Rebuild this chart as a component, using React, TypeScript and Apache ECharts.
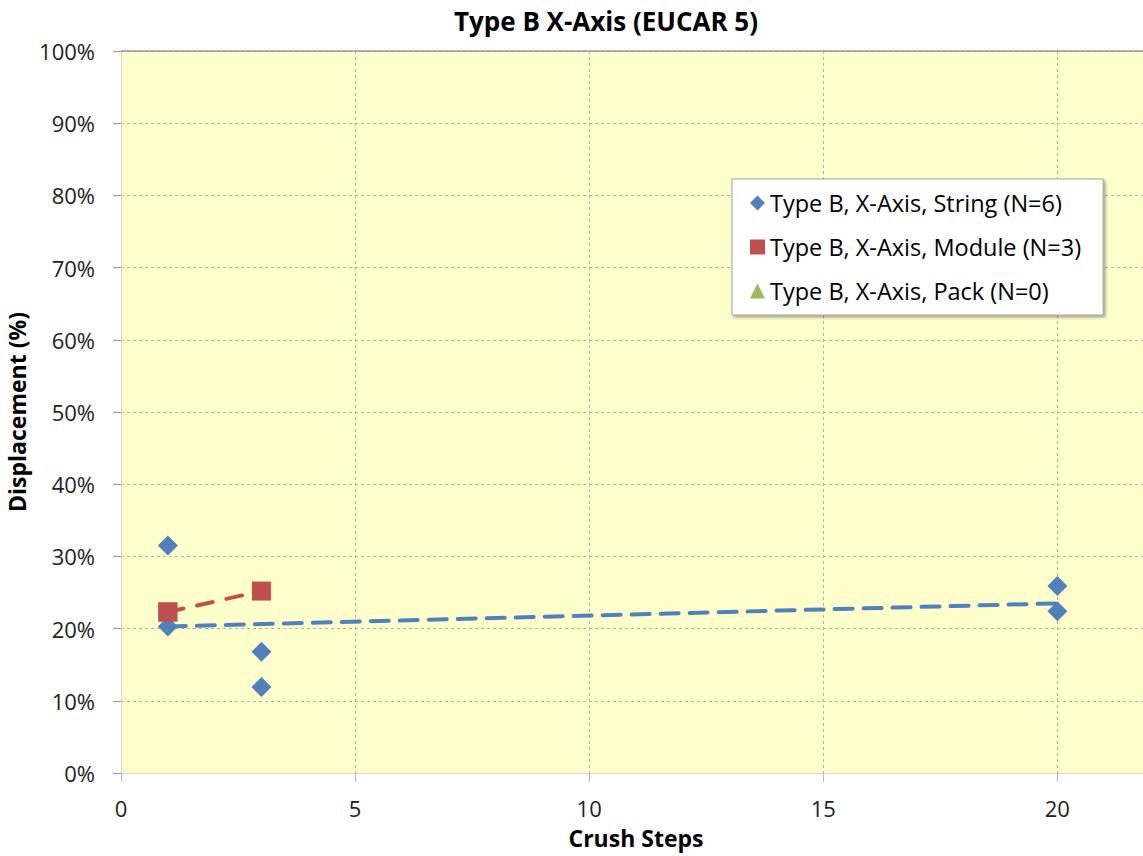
import React, { useEffect, useRef } from "react";
import * as echarts from "echarts";

const titleText = "Type B X-Axis (EUCAR 5)";
const xAxisName = "Crush Steps";
const yAxisName = "Displacement (%)";

const stringName = "Type B, X-Axis, String (N=6)";
const moduleName = "Type B, X-Axis, Module (N=3)";
const packName = "Type B, X-Axis, Pack (N=0)";

const stringX = [1, 1, 3, 3, 20, 20];
const stringY = [31.5, 20.3, 16.8, 11.9, 25.9, 22.4];

const moduleX = [1, 1, 3];
const moduleY = [22.3, 22.3, 25.2];

const packX: number[] = [];
const packY: number[] = [];

const stringTrendX = [1, 20];
const stringTrendY = [20.3, 23.5];
const moduleTrendX = [1, 3];
const moduleTrendY = [22.3, 25.2];

const xTicks = [0, 5, 10, 15, 20];
const yTicks = [0, 10, 20, 30, 40, 50, 60, 70, 80, 90, 100];

const FONT = "'Open Sans', sans-serif";
const BLUE = "#4F81BD";
const RED = "#C0504D";
const GREEN = "#9BBB59";

const zip = (xs: number[], ys: number[]) => xs.map((x, i) => [x, ys[i]]);

export default function App() {
  const ref = useRef<HTMLDivElement>(null);
  useEffect(() => {
    if (!ref.current) return;
    const chart = echarts.init(ref.current, undefined, { renderer: "svg" });
    chart.setOption({
      animation: false,
      backgroundColor: "#ffffff",
      title: {
        text: titleText,
        left: 601,
        top: 3,
        textAlign: "center",
        textStyle: { fontFamily: FONT, fontWeight: "bold", fontSize: 26, color: "#000" },
      },
      grid: {
        left: 121,
        top: 51,
        right: 0,
        bottom: 83,
        containLabel: false,
        outerBoundsMode: "none",
        show: true,
        backgroundColor: "#FFFFCC",
        borderWidth: 0,
      },
      legend: {
        orient: "vertical",
        left: 732,
        top: 179,
        padding: [10, 22, 10, 18],
        itemGap: 16,
        itemWidth: 15,
        itemHeight: 15,
        backgroundColor: "#ffffff",
        borderColor: "#a0a0a0",
        borderWidth: 1,
        shadowBlur: 3,
        shadowOffsetX: 2,
        shadowOffsetY: 2,
        shadowColor: "rgba(0,0,0,0.35)",
        textStyle: { fontFamily: FONT, fontSize: 23.5, color: "#000", lineHeight: 28 },
        data: [
          { name: stringName, icon: "diamond", itemStyle: { color: BLUE, opacity: 1 } },
          { name: moduleName, icon: "rect", itemStyle: { color: RED, opacity: 1 } },
          { name: packName, icon: "triangle", itemStyle: { color: GREEN, opacity: 1 } },
        ],
      },
      xAxis: {
        type: "value",
        min: 0,
        max: 22,
        interval: 5,
        name: xAxisName,
        nameLocation: "middle",
        nameGap: 53,
        nameTextStyle: { fontFamily: FONT, fontWeight: "bold", fontSize: 23, color: "#000" },
        axisLine: { show: true, lineStyle: { color: "#d8d8c8", width: 1 } },
        axisTick: { show: true, length: 9, lineStyle: { color: "#bbbbbb" } },
        axisLabel: {
          fontFamily: FONT,
          fontSize: 22,
          color: "#222",
          margin: 24,
          showMaxLabel: false,
          formatter: (v: number) => (xTicks.includes(v) ? String(v) : ""),
        },
        splitLine: { show: true, lineStyle: { color: "#b0b0b0", type: [3, 3], width: 1 } },
      },
      yAxis: {
        type: "value",
        min: 0,
        max: 100,
        interval: 10,
        name: yAxisName,
        nameLocation: "middle",
        nameGap: 87,
        nameTextStyle: { fontFamily: FONT, fontWeight: "bold", fontSize: 23, color: "#000" },
        axisLine: { show: true, lineStyle: { color: "#d8d8c8", width: 1 } },
        axisTick: { show: true, length: 8, lineStyle: { color: "#999999" } },
        axisLabel: {
          fontFamily: FONT,
          fontSize: 22,
          color: "#222",
          margin: 26,
          formatter: (v: number) => (yTicks.includes(v) ? v + "%" : ""),
        },
        splitLine: { show: true, lineStyle: { color: "#b0b0b0", type: [3, 3], width: 1 } },
      },
      series: [
        {
          name: "__top",
          type: "line",
          data: [],
          silent: true,
          markLine: {
            silent: true,
            symbol: "none",
            label: { show: false },
            lineStyle: { color: "#999999", type: "solid", width: 1.5 },
            data: [{ yAxis: 100 }],
          },
        },
        {
          name: "__stringTrend",
          type: "line",
          data: zip(stringTrendX, stringTrendY),
          showSymbol: false,
          symbol: "none",
          silent: true,
          z: 3,
          lineStyle: { color: BLUE, width: 4, type: [18, 11], cap: "round" },
        },
        {
          name: "__moduleTrend",
          type: "line",
          data: zip(moduleTrendX, moduleTrendY),
          showSymbol: false,
          symbol: "none",
          silent: true,
          z: 3,
          lineStyle: { color: RED, width: 4, type: [16, 14], cap: "round" },
        },
        {
          name: stringName,
          type: "scatter",
          data: zip(stringX, stringY),
          symbol: "diamond",
          symbolSize: 20,
          z: 2,
          itemStyle: { color: BLUE, opacity: 1 },
        },
        {
          name: moduleName,
          type: "scatter",
          data: zip(moduleX, moduleY),
          symbol: "rect",
          symbolSize: 19,
          z: 4,
          itemStyle: { color: RED, opacity: 1 },
        },
        {
          name: packName,
          type: "scatter",
          data: zip(packX, packY),
          symbol: "triangle",
          symbolSize: 18,
          itemStyle: { color: GREEN, opacity: 1 },
        },
      ],
    });
    return () => chart.dispose();
  }, []);
  return (
    <div
      ref={ref}
      style={{ position: "fixed", left: 0, top: 0, width: 1151, height: 856 }}
    />
  );
}
